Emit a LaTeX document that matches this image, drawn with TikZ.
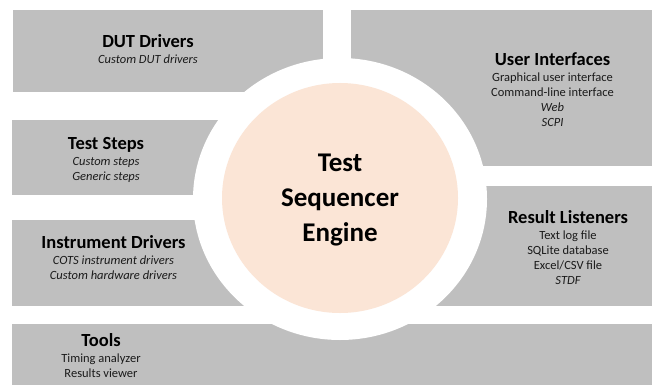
\documentclass[tikz,border=0pt]{standalone}
\usepackage{fontspec}
\setmainfont{Carlito}
\definecolor{panelgray}{HTML}{BFBFBF}
\definecolor{peach}{HTML}{FBE5D6}
\definecolor{subtext}{HTML}{1A1A1A}
\newcommand{\ttlfont}{\fontsize{18.5}{20}\selectfont\bfseries\color{black}}
\newcommand{\subfont}{\fontsize{12.5}{15}\selectfont\mdseries\color{subtext}}
\newcommand{\engfont}{\fontsize{27}{35}\selectfont\bfseries}
\begin{document}
\begin{tikzpicture}[x=1pt,y=-1pt,
  panel/.style={fill=panelgray,draw=none},
  boxtext/.style={align=center,inner sep=0pt,anchor=base,font=\subfont},
  engtext/.style={align=center,inner sep=0pt,anchor=base,text=black,font=\engfont}]
\useasboundingbox (0,0) rectangle (652,385);
% panels
\fill[panel] (13,10) rectangle (323,92);
\fill[panel] (351,10) rectangle (652,166);
\fill[panel] (12,120) rectangle (330,195);
\fill[panel] (12,220) rectangle (330,306);
\fill[panel] (340,186) rectangle (652,306);
\fill[panel] (12,324) rectangle (652,385);
% engine rings
\fill[white] (340,199) ellipse [x radius=147, y radius=141];
\fill[peach] (340,198) ellipse [x radius=118, y radius=115];
% texts (anchored at the baseline of the last line)
\node[boxtext] (dut) at (148,64) {\ttlfont DUT Drivers\\[1pt]\itshape Custom DUT drivers};
\node[boxtext] (steps) at (106,180) {\ttlfont Test Steps\\[1pt]\itshape Custom steps\\\itshape Generic steps};
\node[boxtext] (instr) at (113.5,279) {\ttlfont Instrument Drivers\\[1pt]\itshape COTS instrument drivers\\\itshape Custom hardware drivers};
\node[boxtext] (tools) at (101,377) {\ttlfont Tools\\[1pt]Timing analyzer\\Results viewer};
\node[boxtext] (ui) at (552.5,126) {\ttlfont User Interfaces\\[1pt]Graphical user interface\\Command-line interface\\\itshape Web\\\itshape SCPI};
\node[boxtext] (rl) at (568,284) {\ttlfont Result Listeners\\[1pt]Text log file\\SQLite database\\Excel/CSV file\\\itshape STDF};
\node[engtext] (engine) at (340,241.7) {Test\\Sequencer\\Engine};
\end{tikzpicture}
\end{document}
